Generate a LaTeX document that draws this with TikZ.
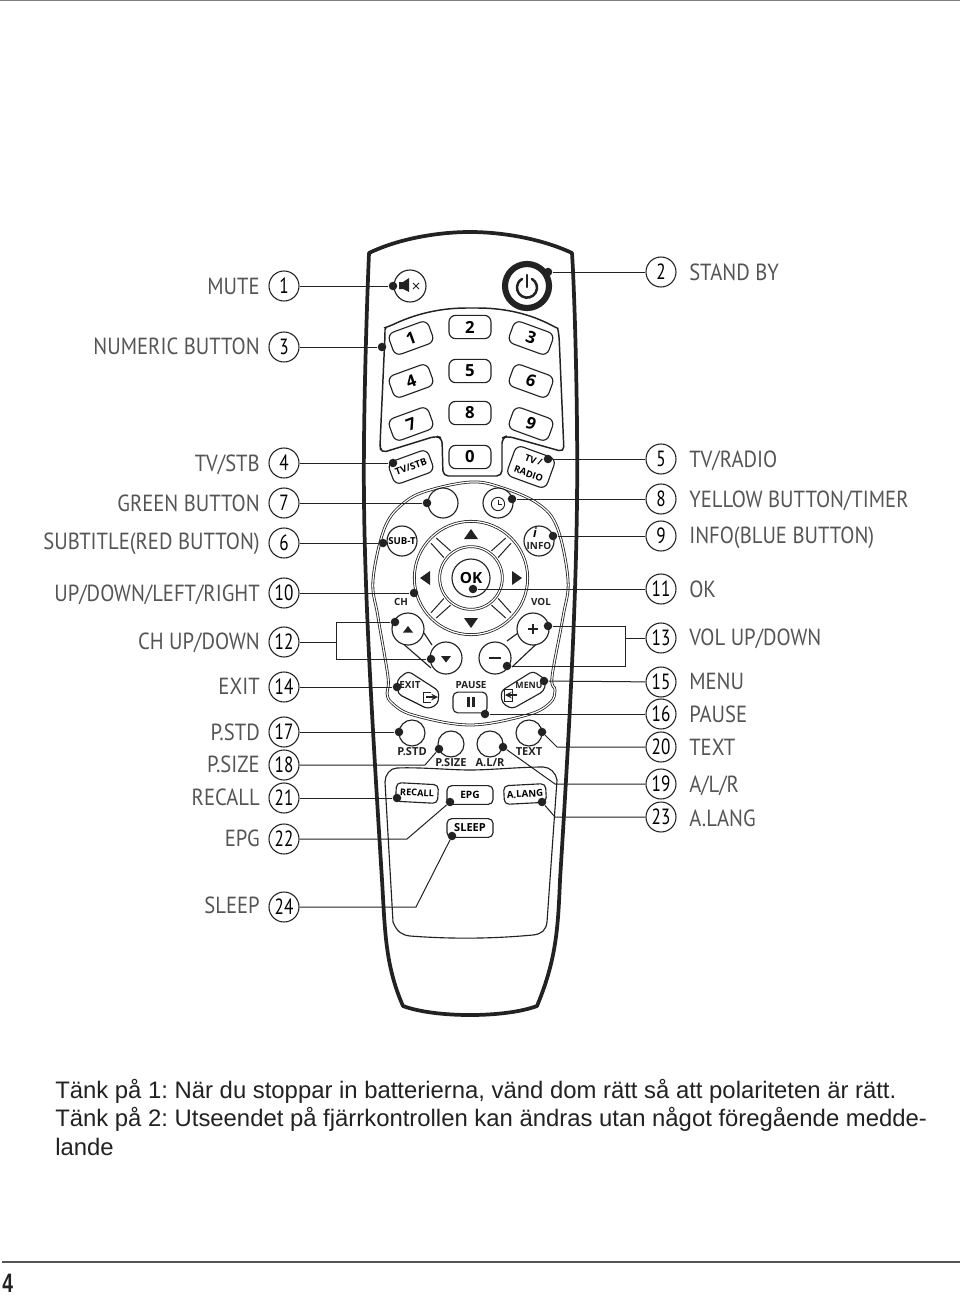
\documentclass[tikz,border=0pt]{standalone}
\usepackage{fontspec}
\setmainfont{Liberation Sans}
\frenchspacing
\newfontfamily\labf[FakeStretch=0.885]{PT Sans}
\newfontfamily\numf[FakeStretch=0.78]{PT Sans}
\newfontfamily\btnf{Open Sans}
\newfontfamily\pagef[FakeStretch=0.72]{Liberation Sans}
\definecolor{ink}{HTML}{222222}
\definecolor{labgray}{HTML}{555555}
\tikzset{
  x=0.75pt,y=-0.75pt,
  numc/.style={circle,draw=ink,line width=0.8pt,minimum size=22.5pt,inner sep=0pt,fill=white,font=\numf\fontsize{16.5}{18}\selectfont,text=black},
  lablL/.style={anchor=base east,inner sep=0pt,text=labgray,font=\labf\fontsize{17.5}{20}\selectfont},
  lablR/.style={anchor=base west,inner sep=0pt,text=labgray,font=\labf\fontsize{17.5}{20}\selectfont},
  conn/.style={draw=ink,line width=0.75pt},
  dotn/.style={circle,fill=ink,minimum size=6.4pt,inner sep=0pt},
  btnline/.style={draw=ink,line width=0.85pt},
  key/.style={btnline,fill=white,rounded corners=5pt,minimum width=31.5pt,minimum height=17.5pt,inner sep=0pt,font=\btnf\bfseries\fontsize{12.5}{14}\selectfont},
  small/.style={inner sep=0pt,font=\btnf\bfseries\fontsize{7.4}{8}\selectfont,text=ink},
  mid/.style={inner sep=0pt,font=\btnf\bfseries\fontsize{8.3}{9}\selectfont,text=ink},
  kbox/.style={btnline,fill=white,rounded corners=3.5pt,inner sep=0pt,minimum height=14pt,font=\btnf\bfseries\fontsize{7.2}{8}\selectfont},
  rbtn/.style={circle,btnline,fill=white,inner sep=0pt,font=\btnf\bfseries\fontsize{7.2}{8}\selectfont},
  note/.style={anchor=base west,inner sep=0pt,font=\fontsize{17.9}{20}\selectfont,text=ink},
}
\newcommand\LL[4]{\node[numc] (n#1) at (284,#2) {#1};\node[lablL] (l#1) at (260,#3) {#4};}
\newcommand\RR[4]{\node[numc] (n#1) at (661,#2) {#1};\node[lablR] (l#1) at (689,#3) {#4};}
\begin{document}
\begin{tikzpicture}
\path[fill=white] (0,0) rectangle (960,1295);
\useasboundingbox (0,0) rectangle (960,1295);
\coordinate (ta) at (0,0.7); \coordinate (tb) at (960,0.7);
\draw[draw=gray,line width=0.8pt] (ta) -- (tb);
\coordinate (fa) at (2,1262); \coordinate (fb) at (960,1262);
\draw[draw=labgray,line width=1pt] (fa) -- (fb);
% body
\draw[draw=ink,line width=2.8pt,line join=round]
  (369,253) .. controls (400,238) and (440,232) .. (470,232)
  .. controls (500,232) and (540,238) .. (572,253)
  .. controls (575,300) and (578,420) .. (577,500)
  .. controls (576,600) and (570,720) .. (560,880)
  .. controls (558,930) and (556,960) .. (537,1006)
  .. controls (505,1018) and (435,1018) .. (403,1006)
  .. controls (385,965) and (385,930) .. (382,880)
  .. controls (372,720) and (365,600) .. (364,500)
  .. controls (363,420) and (367,300) .. (369,253) -- cycle;
% keypad panel
\draw[btnline,line width=1.1pt,rounded corners=4pt]
  (380,445) -- (385,335) .. controls (385,330) and (387,327) .. (390,326)
  .. controls (420,312) and (445,308) .. (472,308)
  .. controls (500,308) and (525,312) .. (553,326)
  .. controls (557,328) and (558,330) .. (559,335)
  -- (564,452) -- (507,436) -- (502,438) -- (502,476) -- (443,476) -- (442,438) -- (436,436) -- (381,453) -- cycle;
% navigation panel
\draw[draw=ink,double=white,double distance=0.9pt,line width=0.6pt]
  plot[smooth cycle,tension=0.6] coordinates {(471,482)(500,487)(537,503)(557,527)(568,580)(563,617)(552,677)(555,690)(550,703)(527,715)(470,725)(413,715)(392,703)(387,693)(388,677)(378,617)(373,580)(385,527)(405,502)(430,490)};
% lower panel
\draw[btnline]
  (393,922) .. controls (397,932) and (402,935) .. (410,936)
  .. controls (450,939) and (490,939) .. (533,935)
  .. controls (542,934) and (546,930) .. (547,922)
  -- (557,780) .. controls (556,773) and (550,767) .. (543,767)
  .. controls (520,767) and (490,770) .. (470,770)
  .. controls (450,770) and (420,767) .. (397,768)
  .. controls (390,768) and (385,775) .. (385,782) -- cycle;
% mute
\node[circle,btnline,fill=white,minimum size=24pt,inner sep=0pt] (mute) at (410,286) {};
\fill[ink] (399,282) -- (403,282) -- (409,278) -- (409,292) -- (403,289) -- (399,289) -- cycle;
\draw[draw=ink,line width=0.6pt] (413,283) -- (419,289) (419,283) -- (413,289);
% power
\node[circle,draw=ink,line width=4.6pt,minimum size=33pt,inner sep=0pt,fill=white] (power) at (527,286) {};
\draw[draw=ink,line width=1.9pt,line cap=round] (532,279) arc[start angle=-60,end angle=240,radius=10];
\draw[draw=ink,line width=1.9pt,line cap=round] (527,275) -- (527,287);
% digits
\node[key] (k2) at (470,327) {2};
\node[key,rotate=20] (k1) at (411,338) {1};
\node[key,rotate=-20] (k3) at (531,338) {3};
\node[key,rotate=20] (k4) at (411,381) {4};
\node[key] (k5) at (470,371) {5};
\node[key,rotate=-20] (k6) at (531,381) {6};
\node[key,rotate=20] (k7) at (411,424) {7};
\node[key] (k8) at (470,413) {8};
\node[key,rotate=-20] (k9) at (531,424) {9};
\node[key] (k0) at (470,457) {0};
\node[key,rotate=20,font=\btnf\bfseries\fontsize{7.2}{8}\selectfont] (ktv) at (411,467) {TV/STB};
\node[key,rotate=-20,minimum height=24pt,align=center,font=\btnf\bfseries\fontsize{7}{11}\selectfont] (kradio) at (531,467) {TV /\\RADIO};
% colour buttons
\node[rbtn,minimum size=22.5pt] (green) at (443,503) {};
\node[rbtn,minimum size=22.5pt] (timer) at (498,503) {};
\node[circle,draw=ink,line width=0.7pt,minimum size=10pt,inner sep=0pt] (clock) at (498,504) {};
\draw[draw=ink,line width=0.6pt] (498,499.5) -- (498,504.5) -- (502,504.5);
\node[rbtn,minimum size=22.5pt] (subt) at (402,541) {SUB-T};
\node[rbtn,minimum size=22.5pt] (info) at (539,541) {};
\node[inner sep=0pt,font=\fontfamily{lmr}\selectfont\bfseries\itshape\fontsize{10}{10}\selectfont] (infoi) at (535,533) {\normalfont\itshape\bfseries i};
\node[small] (infot) at (539,546) {INFO};
% d-pad
\node[circle,draw=ink,double=white,double distance=0.9pt,line width=0.6pt,minimum size=85pt,inner sep=0pt,fill=white] (pad) at (471,578) {};
\foreach \a in {-90,0,90,180}{
  \draw[draw=ink,line width=0.75pt,line join=round,shift={(471,578)}]
    (\a-41:53) -- (\a-37:34) (\a+41:53) -- (\a+37:34);
}
\node[circle,draw=ink,double=white,double distance=0.9pt,line width=0.6pt,minimum size=47pt,inner sep=0pt,fill=white] (padin) at (471,578) {};
\node[circle,btnline,minimum size=28.5pt,inner sep=0pt,fill=white,font=\btnf\bfseries\fontsize{11.5}{14}\selectfont] (ok) at (471,578) {OK};
\fill[ink] (464,539) -- (478,539) -- (471,529) -- cycle;
\fill[ink] (464,618) -- (478,618) -- (471,628) -- cycle;
\fill[ink] (430,571) -- (430,585) -- (420,578) -- cycle;
\fill[ink] (512,571) -- (512,585) -- (522,578) -- cycle;
% CH / VOL
\node[small] (ch) at (401,602) {CH};
\node[small] (vol) at (541,602) {VOL};
\coordinate (cha) at (393,635); \coordinate (chb) at (431,668);
\coordinate (chc) at (424,633); \coordinate (chd) at (432,645);
\draw[btnline] (cha) -- (chb) (chc) -- (chd);
\coordinate (vola) at (548,633); \coordinate (volb) at (512,667);
\coordinate (volc) at (507,641); \coordinate (vold) at (518,633);
\draw[btnline] (vola) -- (volb) (volc) -- (vold);
\node[rbtn,minimum size=24pt] (chup) at (408,629) {};
\node[rbtn,minimum size=24pt] (chdn) at (446,658) {};
\node[rbtn,minimum size=24pt] (volup) at (533,629) {};
\node[rbtn,minimum size=24pt] (voldn) at (495,658) {};
\fill[ink] (403,632.5) -- (413,632.5) -- (408,626) -- cycle;
\fill[ink] (441,656) -- (451,656) -- (446,662.5) -- cycle;
\draw[draw=ink,line width=1.9pt] (528,629) -- (538,629) (533,624) -- (533,634);
\draw[draw=ink,line width=2.2pt] (489,658) -- (501,658);
% exit / menu
\draw[btnline,fill=white,rounded corners=3pt] (397,680) -- (408,671) -- (439,691) -- (438,704) -- (428,709) -- (398,694) -- cycle;
\draw[btnline,fill=white,rounded corners=3pt] (501,691) -- (533,671) -- (546,680) -- (544,691) -- (512,709) -- (502,703) -- cycle;
\node[small] (exit) at (410,685) {EXIT};
\node[inner sep=0pt,font=\btnf\bfseries\fontsize{6.6}{8}\selectfont,text=ink] (menu) at (529,685) {MENU};
\node[small] (pause) at (471,685) {PAUSE};
\draw[draw=ink,line width=0.7pt] (431,692) -- (423,692) -- (423,702) -- (431,702);
\draw[draw=ink,line width=1.2pt,-stealth] (426,697) -- (438,697);
\draw[draw=ink,line width=0.7pt] (504,689) rectangle (512,701);
\draw[draw=ink,line width=1.2pt,-stealth] (517,695) -- (505,695);
\node[kbox,minimum width=25.5pt,minimum height=15.5pt] (pausebtn) at (470,702.5) {};
\fill[ink] (466.5,697) rectangle (469.5,707);
\fill[ink] (471.5,697) rectangle (474.5,707);
% small round buttons
\node[rbtn,minimum size=19.5pt] (pstd) at (412,733) {};
\node[rbtn,minimum size=19.5pt] (psize) at (451,744) {};
\node[rbtn,minimum size=19.5pt] (alr) at (490,744) {};
\node[rbtn,minimum size=19.5pt] (text) at (529,733) {};
\node[mid] (pstdl) at (412,752) {P.STD};
\node[mid] (psizel) at (451,763) {P.SIZE};
\node[mid] (alrl) at (490,763) {A.L/R};
\node[mid] (textl) at (529,752) {TEXT};
% boxes
\node[kbox,minimum width=31.5pt,rotate=-3,font=\btnf\bfseries\fontsize{6.9}{8}\selectfont] (recall) at (417,793) {RECALL};
\node[kbox,minimum width=34.5pt,font=\btnf\bfseries\fontsize{7.6}{8}\selectfont] (epg) at (470,795) {EPG};
\node[kbox,minimum width=31.5pt,rotate=3] (alang) at (525,794) {A.LANG};
\node[kbox,minimum width=34.5pt,font=\btnf\bfseries\fontsize{8.3}{9}\selectfont] (sleep) at (470,828) {SLEEP};
% numbered labels
\LL{1}{286}{294}{MUTE}
\LL{3}{347}{354}{NUMERIC BUTTON}
\LL{4}{463}{471}{TV/STB}
\LL{7}{503}{511}{GREEN BUTTON}
\LL{6}{543}{549}{SUBTITLE(RED BUTTON)}
\LL{10}{593}{601}{UP/DOWN/LEFT/RIGHT}
\LL{12}{642}{649}{CH UP/DOWN}
\LL{14}{687}{694}{EXIT}
\LL{17}{732}{740}{P.STD}
\LL{18}{765}{772}{P.SIZE}
\LL{21}{798}{805}{RECALL}
\LL{22}{839}{846}{EPG}
\LL{24}{907}{913}{SLEEP}
\RR{2}{272}{280}{STAND BY}
\RR{5}{459}{467}{TV/RADIO}
\RR{8}{499}{507}{YELLOW BUTTON/TIMER}
\RR{9}{536}{543}{INFO(BLUE BUTTON)}
\RR{11}{589}{597}{OK}
\RR{13}{638}{645}{VOL UP/DOWN}
\RR{15}{682}{689}{MENU}
\RR{16}{714}{722}{PAUSE}
\RR{20}{747}{755}{TEXT}
\RR{19}{784}{792}{A/L/R}
\RR{23}{817}{826}{A.LANG}
% dots
\node[dotn] (d1) at (393,286) {};
\node[dotn] (d2) at (548,272) {};
\node[dotn] (d3) at (382,347) {};
\node[dotn] (d4) at (393,463) {};
\node[dotn] (d5) at (548,459) {};
\node[dotn] (d7) at (427,503) {};
\node[dotn] (d8) at (512,499) {};
\node[dotn] (d6) at (383,543) {};
\node[dotn] (d9) at (553,536) {};
\node[dotn] (d10) at (414,593) {};
\node[dotn] (d11) at (473,589) {};
\node[dotn] (d12a) at (395,622) {};
\node[dotn] (d12b) at (431,659) {};
\node[dotn] (d13a) at (548,626) {};
\node[dotn] (d13b) at (507,666) {};
\node[dotn] (d14) at (397,687) {};
\node[dotn] (d15) at (544,681) {};
\node[dotn] (d16) at (485,714) {};
\node[dotn] (d17) at (399,732) {};
\node[dotn] (d18) at (439,749) {};
\node[dotn] (d20) at (542,732) {};
\node[dotn] (d19) at (503,747) {};
\node[dotn] (d21) at (397,798) {};
\node[dotn] (d22) at (450,802) {};
\node[dotn] (d23) at (542,802) {};
\node[dotn] (d24) at (452,836) {};
% connectors
\foreach \i in {1,3,4,7,6,10,14,17,21}{\draw[conn] (n\i) -- (d\i);}
\foreach \i in {2,5,8,9,11,15,16}{\draw[conn] (n\i) -- (d\i);}
\coordinate (b12) at (336,642); \coordinate (b12t) at (336,622); \coordinate (b12b) at (336,659);
\draw[conn] (n12) -- (b12);
\draw[conn] (d12a) -- (b12t) -- (b12b) -- (d12b);
\coordinate (b13) at (625,638); \coordinate (b13t) at (625,626); \coordinate (b13b) at (625,666);
\draw[conn] (n13) -- (b13);
\draw[conn] (d13a) -- (b13t) -- (b13b) -- (d13b);
\coordinate (e18) at (425,765);
\draw[conn] (n18) -- (e18) -- (d18);
\coordinate (e20) at (557,747);
\draw[conn] (n20) -- (e20) -- (d20);
\coordinate (e19) at (555,784);
\draw[conn] (n19) -- (e19) -- (d19);
\coordinate (e22) at (407,839);
\draw[conn] (n22) -- (e22) -- (d22);
\coordinate (e23) at (555,817);
\draw[conn] (n23) -- (e23) -- (d23);
\coordinate (e24) at (416,907);
\draw[conn] (n24) -- (e24) -- (d24);
% notes
\node[note] (t1) at (55,1098) {Tänk på 1: När du stoppar in batterierna, vänd dom rätt så att polariteten är rätt.};
\node[note] (t2) at (55,1126) {Tänk på 2: Utseendet på fjärrkontrollen kan ändras utan något föregående medde-};
\node[note] (t3) at (55,1155) {lande};
\node[anchor=base west,inner sep=0pt,font=\pagef\bfseries\fontsize{20}{22}\selectfont,text=ink] (pg) at (2,1292) {4};
\end{tikzpicture}
\end{document}
